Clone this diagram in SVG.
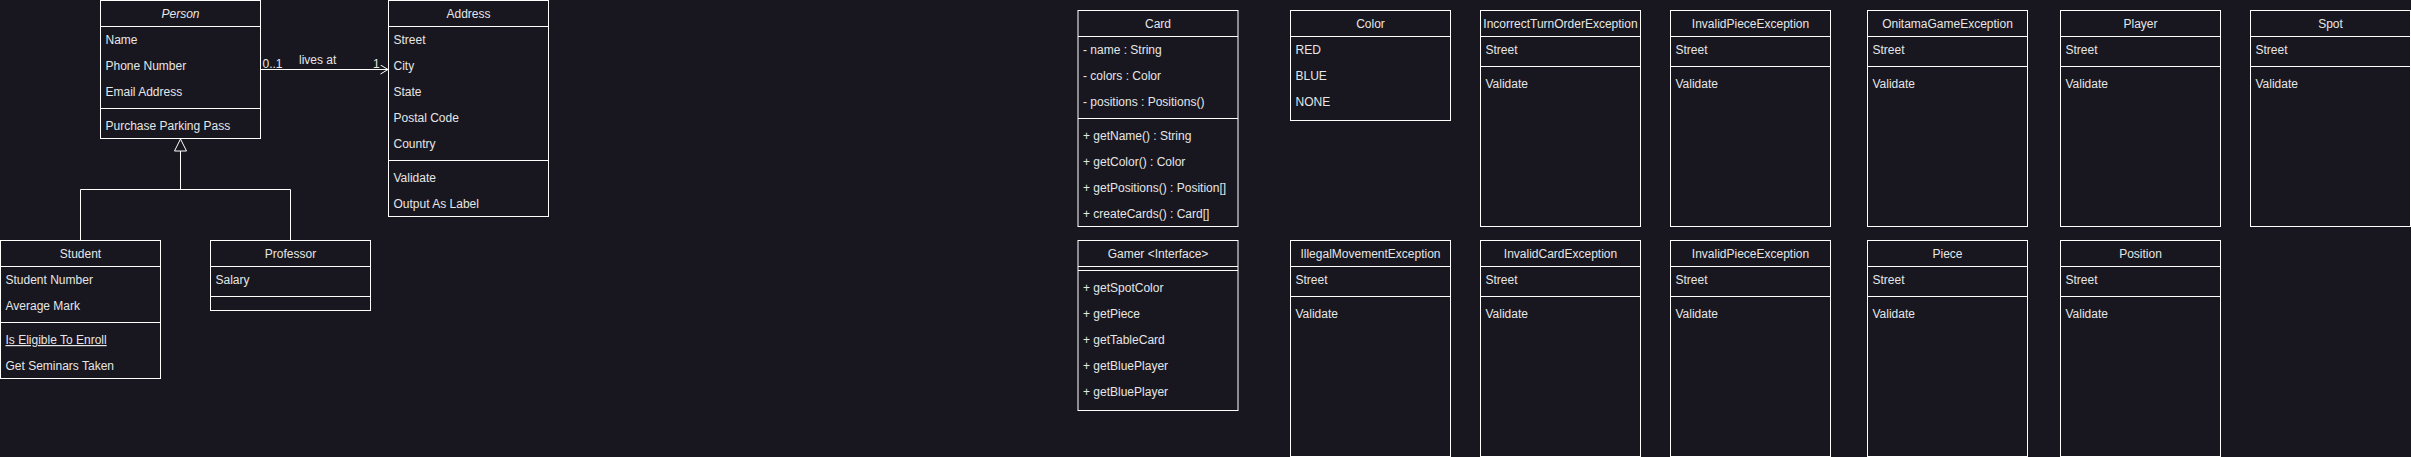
<svg xmlns="http://www.w3.org/2000/svg" width="2411" height="457" viewBox="0 0 2411 457">
<style>
.box{fill:#18161f;stroke:#ffffff;stroke-width:1}
.ln{fill:none;stroke:#ffffff;stroke-width:1}
text{font-family:"Liberation Sans",Arial,sans-serif;font-size:12px;fill:#e6e6e6}
.h{text-anchor:middle}
.i{font-style:italic}
.u{text-decoration:underline}
</style>
<defs>
<marker id="open" markerWidth="10" markerHeight="10" refX="8" refY="5" orient="auto" markerUnits="userSpaceOnUse">
<path d="M0.5,0.5 L8,5 L0.5,9.5" fill="none" stroke="#ffffff" stroke-width="1"/>
</marker>
</defs>
<rect x="0" y="0" width="2411" height="457" fill="#18161f"/>

<g id="connectors">
<path class="ln" d="M260.5,69.5 H388" marker-end="url(#open)"/>
<text x="262.5" y="67.5">0..1</text>
<text x="299" y="64">lives at</text>
<text x="373" y="67.5">1</text>
<path class="ln" d="M180.5,151 V189.5 M80.5,189.5 H290.5 M80.5,189.5 V240.5 M290.5,189.5 V240.5"/>
<polygon class="box" points="180.5,139 174.5,151 186.5,151"/>
</g>

<g id="person">
<rect class="box" x="100.5" y="0.5" width="160" height="138"/>
<path class="ln" d="M100.5,26.5 H260.5 M100.5,108.5 H260.5"/>
<text class="h i" x="180.5" y="18">Person</text>
<text x="105.5" y="44">Name</text>
<text x="105.5" y="70">Phone Number</text>
<text x="105.5" y="96">Email Address</text>
<text x="105.5" y="130">Purchase Parking Pass</text>
</g>

<g id="address">
<rect class="box" x="388.5" y="0.5" width="160" height="216"/>
<path class="ln" d="M388.5,26.5 H548.5 M388.5,160.5 H548.5"/>
<text class="h" x="468.5" y="18">Address</text>
<text x="393.5" y="44">Street</text>
<text x="393.5" y="70">City</text>
<text x="393.5" y="96">State</text>
<text x="393.5" y="122">Postal Code</text>
<text x="393.5" y="148">Country</text>
<text x="393.5" y="182">Validate</text>
<text x="393.5" y="208">Output As Label</text>
</g>

<g id="student">
<rect class="box" x="0.5" y="240.5" width="160" height="138"/>
<path class="ln" d="M0.5,266.5 H160.5 M0.5,322.5 H160.5"/>
<text class="h" x="80.5" y="258">Student</text>
<text x="5.5" y="284">Student Number</text>
<text x="5.5" y="310">Average Mark</text>
<text class="u" x="5.5" y="344">Is Eligible To Enroll</text>
<text x="5.5" y="370">Get Seminars Taken</text>
</g>

<g id="professor">
<rect class="box" x="210.5" y="240.5" width="160" height="70"/>
<path class="ln" d="M210.5,266.5 H370.5 M210.5,296.5 H370.5"/>
<text class="h" x="290.5" y="258">Professor</text>
<text x="215.5" y="284">Salary</text>
</g>

<g id="card">
<rect class="box" x="1078" y="10.5" width="160" height="216"/>
<path class="ln" d="M1078,36.5 H1238 M1078,118.5 H1238"/>
<text class="h" x="1158" y="28">Card</text>
<text x="1083" y="54">- name : String</text>
<text x="1083" y="80">- colors : Color</text>
<text x="1083" y="106">- positions : Positions()</text>
<text x="1083" y="140">+ getName() : String</text>
<text x="1083" y="166">+ getColor() : Color</text>
<text x="1083" y="192">+ getPositions() : Position[]</text>
<text x="1083" y="218">+ createCards() : Card[]</text>
</g>

<g id="color">
<rect class="box" x="1290.5" y="10.5" width="160" height="110"/>
<path class="ln" d="M1290.5,36.5 H1450.5"/>
<text class="h" x="1370.5" y="28">Color</text>
<text x="1295.5" y="54">RED</text>
<text x="1295.5" y="80">BLUE</text>
<text x="1295.5" y="106">NONE</text>
</g>

<g id="incorrectTurnOrderException">
<rect class="box" x="1480.5" y="10.5" width="160" height="216"/>
<path class="ln" d="M1480.5,36.5 H1640.5 M1480.5,66.5 H1640.5"/>
<text class="h" x="1560.5" y="28">IncorrectTurnOrderException</text>
<text x="1485.5" y="54">Street</text>
<text x="1485.5" y="88">Validate</text>
</g>

<g id="invalidPieceException1">
<rect class="box" x="1670.5" y="10.5" width="160" height="216"/>
<path class="ln" d="M1670.5,36.5 H1830.5 M1670.5,66.5 H1830.5"/>
<text class="h" x="1750.5" y="28">InvalidPieceException</text>
<text x="1675.5" y="54">Street</text>
<text x="1675.5" y="88">Validate</text>
</g>

<g id="onitamaGameException">
<rect class="box" x="1867.5" y="10.5" width="160" height="216"/>
<path class="ln" d="M1867.5,36.5 H2027.5 M1867.5,66.5 H2027.5"/>
<text class="h" x="1947.5" y="28">OnitamaGameException</text>
<text x="1872.5" y="54">Street</text>
<text x="1872.5" y="88">Validate</text>
</g>

<g id="player">
<rect class="box" x="2060.5" y="10.5" width="160" height="216"/>
<path class="ln" d="M2060.5,36.5 H2220.5 M2060.5,66.5 H2220.5"/>
<text class="h" x="2140.5" y="28">Player</text>
<text x="2065.5" y="54">Street</text>
<text x="2065.5" y="88">Validate</text>
</g>

<g id="spot">
<rect class="box" x="2250.5" y="10.5" width="160" height="216"/>
<path class="ln" d="M2250.5,36.5 H2410.5 M2250.5,66.5 H2410.5"/>
<text class="h" x="2330.5" y="28">Spot</text>
<text x="2255.5" y="54">Street</text>
<text x="2255.5" y="88">Validate</text>
</g>

<g id="gamer">
<rect class="box" x="1078" y="240.5" width="160" height="170"/>
<path class="ln" d="M1078,266.5 H1238 M1078,270.5 H1238"/>
<text class="h" x="1158" y="258">Gamer &lt;Interface&gt;</text>
<text x="1083" y="292">+ getSpotColor</text>
<text x="1083" y="318">+ getPiece</text>
<text x="1083" y="344">+ getTableCard</text>
<text x="1083" y="370">+ getBluePlayer</text>
<text x="1083" y="396">+ getBluePlayer</text>
</g>

<g id="illegalMovementException">
<rect class="box" x="1290.5" y="240.5" width="160" height="216"/>
<path class="ln" d="M1290.5,266.5 H1450.5 M1290.5,296.5 H1450.5"/>
<text class="h" x="1370.5" y="258">IllegalMovementException</text>
<text x="1295.5" y="284">Street</text>
<text x="1295.5" y="318">Validate</text>
</g>

<g id="invalidCardException">
<rect class="box" x="1480.5" y="240.5" width="160" height="216"/>
<path class="ln" d="M1480.5,266.5 H1640.5 M1480.5,296.5 H1640.5"/>
<text class="h" x="1560.5" y="258">InvalidCardException</text>
<text x="1485.5" y="284">Street</text>
<text x="1485.5" y="318">Validate</text>
</g>

<g id="invalidPieceException2">
<rect class="box" x="1670.5" y="240.5" width="160" height="216"/>
<path class="ln" d="M1670.5,266.5 H1830.5 M1670.5,296.5 H1830.5"/>
<text class="h" x="1750.5" y="258">InvalidPieceException</text>
<text x="1675.5" y="284">Street</text>
<text x="1675.5" y="318">Validate</text>
</g>

<g id="piece">
<rect class="box" x="1867.5" y="240.5" width="160" height="216"/>
<path class="ln" d="M1867.5,266.5 H2027.5 M1867.5,296.5 H2027.5"/>
<text class="h" x="1947.5" y="258">Piece</text>
<text x="1872.5" y="284">Street</text>
<text x="1872.5" y="318">Validate</text>
</g>

<g id="position">
<rect class="box" x="2060.5" y="240.5" width="160" height="216"/>
<path class="ln" d="M2060.5,266.5 H2220.5 M2060.5,296.5 H2220.5"/>
<text class="h" x="2140.5" y="258">Position</text>
<text x="2065.5" y="284">Street</text>
<text x="2065.5" y="318">Validate</text>
</g>
</svg>
